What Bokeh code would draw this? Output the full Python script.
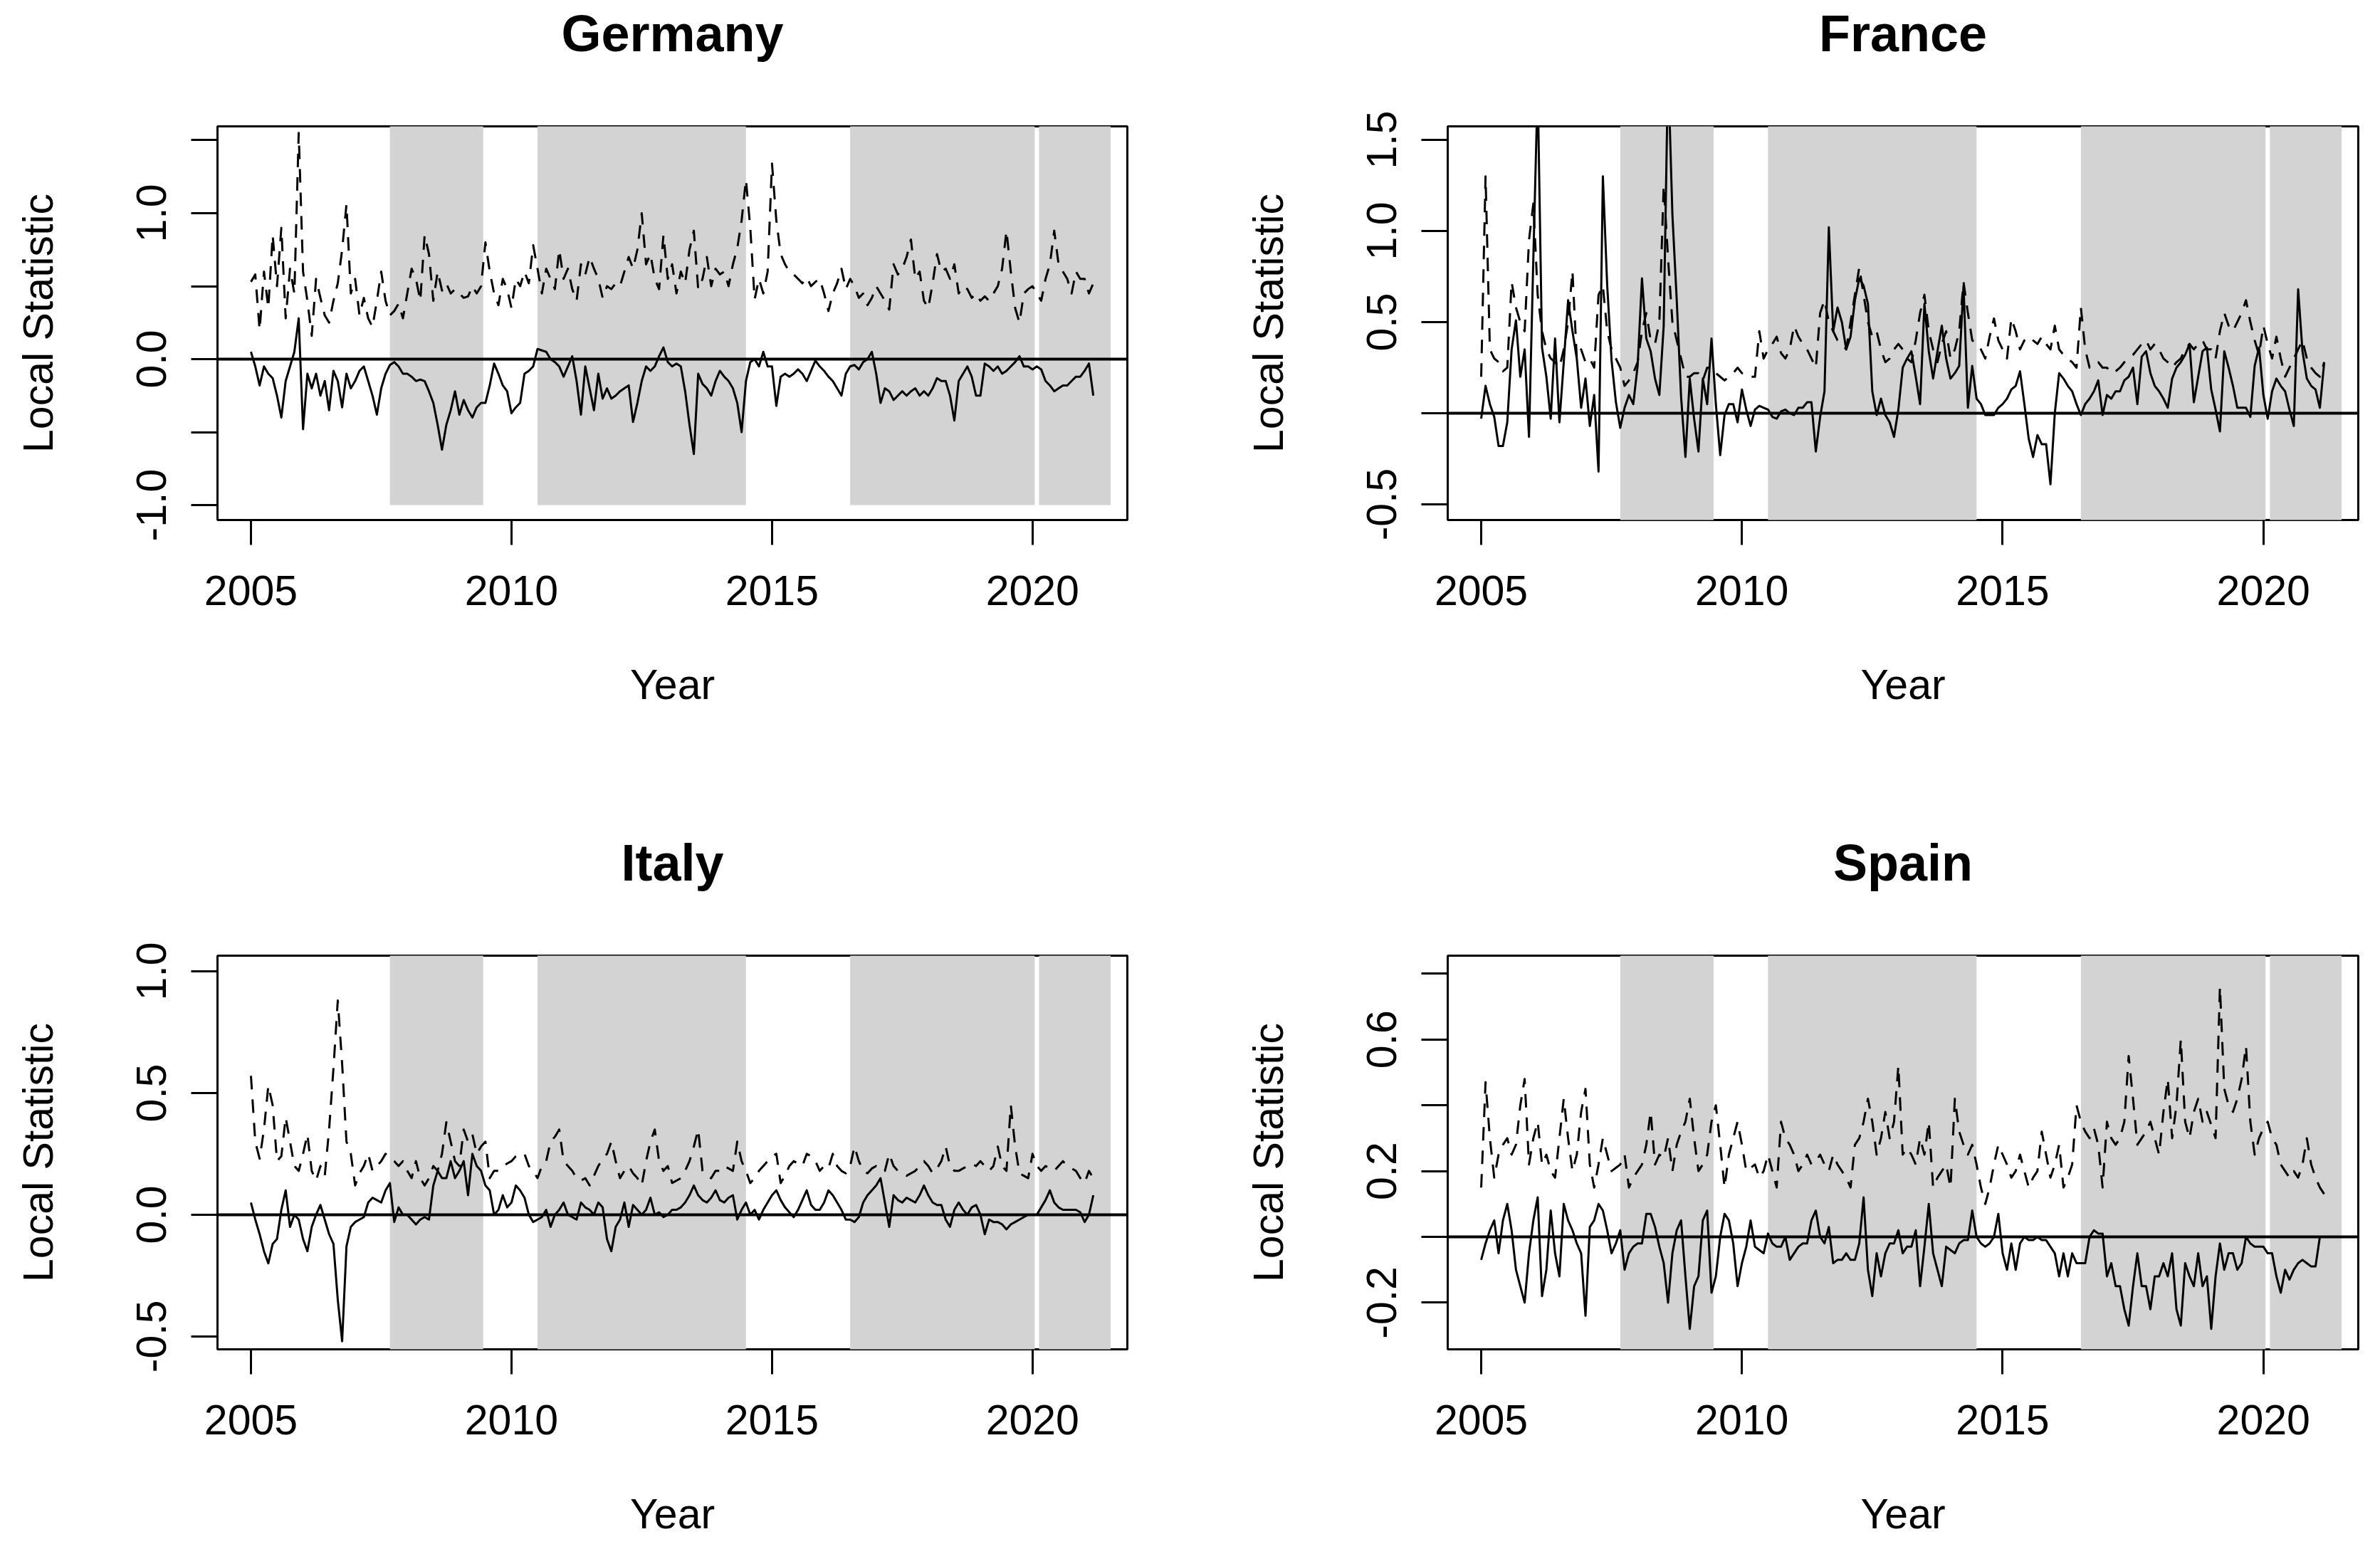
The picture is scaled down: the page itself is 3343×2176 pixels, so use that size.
import numpy as np
from bokeh.plotting import figure
from bokeh.layouts import row, column
from bokeh.models import FixedTicker, Span, Range1d, LinearAxis
from bokeh.embed import file_html
from bokeh.resources import INLINE

START_YEAR = 2005.0
MONTHS = 12.0

# ---------------- data (monthly, Jan 2005 onward) ----------------
de_dash = [
    0.53, 0.58, 0.20, 0.60, 0.35, 0.85, 0.50, 0.90, 0.28, 0.62, 0.45, 1.55,
    0.60, 0.40, 0.16, 0.55, 0.42, 0.30, 0.25, 0.40, 0.52, 0.75, 1.06, 0.45,
    0.55, 0.30, 0.42, 0.28, 0.22, 0.40, 0.60, 0.40, 0.30, 0.33, 0.38, 0.28,
    0.45, 0.62, 0.55, 0.40, 0.85, 0.72, 0.40, 0.60, 0.47, 0.52, 0.45, 0.48,
    0.45, 0.42, 0.43, 0.50, 0.45, 0.50, 0.80, 0.60, 0.45, 0.37, 0.55, 0.48,
    0.35, 0.55, 0.50, 0.60, 0.52, 0.78, 0.62, 0.45, 0.62, 0.55, 0.48, 0.75,
    0.55, 0.62, 0.48, 0.40, 0.65, 0.58, 0.70, 0.62, 0.55, 0.42, 0.50, 0.48,
    0.52, 0.50, 0.60, 0.70, 0.62, 0.75, 1.00, 0.65, 0.72, 0.55, 0.48, 0.85,
    0.55, 0.65, 0.45, 0.60, 0.52, 0.75, 0.88, 0.48, 0.55, 0.70, 0.50, 0.62,
    0.58, 0.60, 0.50, 0.65, 0.76, 0.95, 1.23, 0.90, 0.41, 0.55, 0.45, 0.60,
    1.34, 0.95, 0.72, 0.65, 0.60, 0.58, 0.55, 0.52, 0.56, 0.50, 0.53, 0.55,
    0.45, 0.33, 0.45, 0.52, 0.62, 0.48, 0.55, 0.50, 0.42, 0.45, 0.37, 0.42,
    0.50, 0.45, 0.40, 0.34, 0.65, 0.58, 0.62, 0.70, 0.82, 0.55, 0.60, 0.40,
    0.35, 0.52, 0.72, 0.60, 0.62, 0.55, 0.65, 0.45, 0.50, 0.48, 0.42, 0.45,
    0.40, 0.43, 0.40, 0.45, 0.50, 0.62, 0.88, 0.60, 0.35, 0.25, 0.45, 0.48,
    0.50, 0.45, 0.40, 0.55, 0.65, 0.88, 0.65, 0.60, 0.55, 0.45, 0.60, 0.55,
    0.55, 0.45, 0.52,
]
de_solid = [
    0.05, -0.05, -0.18, -0.05, -0.10, -0.13, -0.25, -0.40, -0.15, -0.05, 0.05, 0.28,
    -0.48, -0.10, -0.20, -0.10, -0.25, -0.15, -0.35, -0.08, -0.15, -0.33, -0.10, -0.20,
    -0.15, -0.08, -0.05, -0.15, -0.25, -0.38, -0.20, -0.10, -0.04, -0.02, -0.05, -0.10,
    -0.10, -0.12, -0.15, -0.14, -0.15, -0.22, -0.30, -0.45, -0.62, -0.45, -0.35, -0.22,
    -0.38, -0.28, -0.35, -0.40, -0.33, -0.30, -0.30, -0.18, -0.03, -0.10, -0.18, -0.22,
    -0.37, -0.33, -0.30, -0.10, -0.08, -0.05, 0.07, 0.06, 0.05, 0.00, -0.02, -0.05,
    -0.12, -0.05, 0.02, -0.15, -0.38, -0.05, -0.20, -0.35, -0.10, -0.27, -0.20, -0.27,
    -0.25, -0.22, -0.20, -0.18, -0.43, -0.30, -0.15, -0.05, -0.08, -0.05, 0.02, 0.08,
    -0.02, -0.05, -0.03, -0.05, -0.22, -0.45, -0.65, -0.10, -0.17, -0.20, -0.25, -0.15,
    -0.08, -0.12, -0.15, -0.20, -0.30, -0.50, -0.15, -0.02, 0.00, -0.05, 0.05, -0.05,
    -0.05, -0.32, -0.12, -0.10, -0.12, -0.10, -0.07, -0.10, -0.15, -0.08, -0.01, -0.05,
    -0.08, -0.12, -0.15, -0.20, -0.25, -0.10, -0.05, -0.04, -0.07, -0.02, 0.00, 0.05,
    -0.10, -0.30, -0.20, -0.22, -0.28, -0.25, -0.22, -0.25, -0.22, -0.20, -0.25, -0.22,
    -0.25, -0.20, -0.13, -0.15, -0.15, -0.25, -0.42, -0.15, -0.10, -0.05, -0.12, -0.25,
    -0.25, -0.03, -0.05, -0.08, -0.05, -0.10, -0.08, -0.05, -0.02, 0.02, -0.05, -0.05,
    -0.07, -0.05, -0.07, -0.15, -0.18, -0.22, -0.20, -0.18, -0.18, -0.15, -0.12, -0.12,
    -0.08, -0.03, -0.25,
]
fr_dash = [
    0.20, 1.30, 0.35, 0.30, 0.28, 0.23, 0.25, 0.72, 0.58, 0.50, 0.45, 0.95,
    1.15, 0.65, 0.45, 0.35, 0.30, 0.28, 0.25, 0.35, 0.50, 0.78, 0.30, 0.35,
    0.28, 0.30, 0.25, 0.65, 0.70, 0.45, 0.35, 0.30, 0.25, 0.15, 0.18, 0.22,
    0.28, 0.45, 0.55, 0.40, 0.38, 0.50, 1.25, 0.85, 0.50, 0.40, 0.30, 0.20,
    0.20, 0.22, 0.22, 0.18, 0.25, 0.25, 0.22, 0.20, 0.18, 0.20, 0.22, 0.25,
    0.22, 0.22, 0.20, 0.20, 0.45, 0.30, 0.35, 0.38, 0.42, 0.33, 0.30, 0.35,
    0.48, 0.42, 0.38, 0.35, 0.30, 0.25, 0.55, 0.62, 0.50, 0.45, 0.40, 0.38,
    0.35, 0.50, 0.65, 0.80, 0.65, 0.50, 0.42, 0.45, 0.35, 0.28, 0.30, 0.35,
    0.38, 0.35, 0.30, 0.28, 0.40, 0.55, 0.65, 0.45, 0.35, 0.28, 0.38, 0.45,
    0.30, 0.35, 0.45, 0.72, 0.55, 0.40, 0.38, 0.35, 0.30, 0.42, 0.52, 0.40,
    0.35, 0.30, 0.52, 0.45, 0.35, 0.40, 0.42, 0.40, 0.38, 0.42, 0.38, 0.35,
    0.48, 0.35, 0.32, 0.30, 0.28, 0.25, 0.58, 0.35, 0.25, 0.27, 0.28, 0.25,
    0.25, 0.22, 0.23, 0.25, 0.28, 0.30, 0.32, 0.35, 0.38, 0.40, 0.35, 0.38,
    0.35, 0.30, 0.28, 0.25, 0.28, 0.30, 0.35, 0.38, 0.35, 0.38, 0.40, 0.35,
    0.35, 0.30, 0.45, 0.55, 0.48, 0.45, 0.50, 0.55, 0.62, 0.50, 0.40, 0.32,
    0.48, 0.38, 0.30, 0.42, 0.30, 0.20, 0.25, 0.30, 0.35, 0.40, 0.30, 0.25,
    0.22, 0.20, 0.28,
]
fr_solid = [
    -0.03, 0.15, 0.05, -0.02, -0.18, -0.18, -0.05, 0.35, 0.51, 0.20, 0.35, -0.13,
    0.85, 1.80, 0.36, 0.20, -0.03, 0.41, -0.05, 0.28, 0.62, 0.45, 0.30, 0.03,
    0.19, -0.07, 0.10, -0.32, 1.30, 0.70, 0.29, 0.06, -0.08, 0.03, 0.10, 0.05,
    0.26, 0.74, 0.41, 0.34, 0.19, 0.10, 0.48, 1.90, 1.09, 0.62, 0.09, -0.24,
    0.19, -0.03, -0.21, 0.19, 0.05, 0.41, 0.05, -0.23, -0.01, 0.05, 0.05, -0.05,
    0.13, 0.02, -0.07, 0.02, 0.04, 0.03, 0.02, -0.02, -0.03, 0.01, 0.02, 0.00,
    -0.01, 0.03, 0.03, 0.06, 0.06, -0.21, -0.02, 0.12, 1.02, 0.45, 0.58, 0.50,
    0.35, 0.42, 0.62, 0.74, 0.70, 0.60, 0.12, -0.01, 0.08, -0.01, -0.05, -0.13,
    0.02, 0.25, 0.30, 0.34, 0.20, 0.05, 0.60, 0.34, 0.19, 0.34, 0.48, 0.30,
    0.19, 0.22, 0.26, 0.70, 0.03, 0.26, 0.08, 0.05, -0.01, -0.01, -0.01, 0.03,
    0.05, 0.08, 0.13, 0.15, 0.23, 0.05, -0.14, -0.24, -0.12, -0.17, -0.17, -0.39,
    0.00, 0.22, 0.19, 0.15, 0.12, 0.05, -0.01, 0.05, 0.08, 0.12, 0.18, -0.01,
    0.10, 0.08, 0.12, 0.12, 0.18, 0.20, 0.25, 0.05, 0.31, 0.34, 0.22, 0.15,
    0.12, 0.08, 0.03, 0.19, 0.25, 0.28, 0.32, 0.38, 0.06, 0.20, 0.34, 0.36,
    0.13, 0.02, -0.10, 0.34, 0.25, 0.15, 0.03, 0.03, 0.03, -0.02, 0.26, 0.36,
    0.10, -0.03, 0.12, 0.19, 0.15, 0.12, 0.02, -0.07, 0.68, 0.34, 0.19, 0.15,
    0.13, 0.03, 0.28,
]
it_dash = [
    0.57, 0.30, 0.23, 0.35, 0.53, 0.45, 0.22, 0.24, 0.40, 0.30, 0.20, 0.18,
    0.25, 0.33, 0.18, 0.14, 0.20, 0.16, 0.35, 0.60, 0.88, 0.62, 0.30, 0.25,
    0.12, 0.17, 0.20, 0.25, 0.18, 0.20, 0.22, 0.25, 0.23, 0.22, 0.20, 0.22,
    0.18, 0.15, 0.22, 0.15, 0.12, 0.15, 0.20, 0.18, 0.25, 0.38, 0.30, 0.22,
    0.20, 0.35, 0.30, 0.33, 0.25, 0.28, 0.30, 0.15, 0.18, 0.18, 0.20, 0.21,
    0.22, 0.24, 0.25, 0.25, 0.20, 0.18, 0.15, 0.20, 0.22, 0.30, 0.32, 0.35,
    0.22, 0.20, 0.18, 0.15, 0.14, 0.15, 0.12, 0.16, 0.20, 0.23, 0.25, 0.30,
    0.22, 0.15, 0.18, 0.20, 0.17, 0.15, 0.12, 0.22, 0.30, 0.35, 0.22, 0.18,
    0.20, 0.13, 0.14, 0.15, 0.18, 0.22, 0.28, 0.35, 0.18, 0.16, 0.15, 0.18,
    0.18, 0.20, 0.19, 0.18, 0.30, 0.22, 0.18, 0.13, 0.15, 0.18, 0.20, 0.22,
    0.24, 0.25, 0.13, 0.16, 0.20, 0.22, 0.21, 0.20, 0.25, 0.24, 0.22, 0.18,
    0.20, 0.19, 0.25, 0.20, 0.18, 0.17, 0.20, 0.28, 0.22, 0.18, 0.17, 0.19,
    0.20, 0.18, 0.18, 0.25, 0.20, 0.18, 0.17, 0.16, 0.17, 0.18, 0.20, 0.22,
    0.20, 0.17, 0.19, 0.22, 0.28, 0.20, 0.18, 0.18, 0.19, 0.20, 0.21, 0.20,
    0.22, 0.20, 0.18, 0.20, 0.28, 0.20, 0.18, 0.45, 0.28, 0.17, 0.16, 0.15,
    0.25, 0.20, 0.18, 0.20, 0.19, 0.18, 0.20, 0.22, 0.20, 0.19, 0.18, 0.15,
    0.13, 0.18, 0.15,
]
it_solid = [
    0.05, -0.02, -0.08, -0.15, -0.20, -0.12, -0.10, 0.02, 0.10, -0.05, 0.00, -0.02,
    -0.10, -0.15, -0.05, 0.00, 0.04, -0.02, -0.08, -0.12, -0.35, -0.52, -0.13, -0.05,
    -0.03, -0.02, -0.01, 0.05, 0.07, 0.06, 0.05, 0.10, 0.13, -0.03, 0.03, 0.00,
    0.00, -0.02, -0.04, -0.02, -0.01, -0.02, 0.12, 0.18, 0.15, 0.15, 0.22, 0.15,
    0.18, 0.22, 0.08, 0.25, 0.20, 0.18, 0.12, 0.10, 0.00, 0.02, 0.08, 0.03,
    0.05, 0.12, 0.10, 0.07, 0.00, -0.03, -0.02, -0.01, 0.02, -0.05, 0.00, 0.02,
    0.05, 0.00, -0.01, -0.02, 0.05, 0.03, 0.02, 0.00, 0.05, 0.03, -0.10, -0.15,
    -0.05, -0.02, 0.05, -0.05, 0.04, 0.02, 0.00, 0.02, 0.07, 0.00, 0.01, -0.01,
    0.00, 0.02, 0.02, 0.03, 0.05, 0.08, 0.12, 0.08, 0.06, 0.05, 0.07, 0.10,
    0.06, 0.05, 0.07, 0.08, -0.02, 0.02, 0.05, 0.00, 0.02, -0.02, 0.02, 0.05,
    0.08, 0.10, 0.06, 0.03, 0.01, -0.01, 0.02, 0.06, 0.10, 0.04, 0.02, 0.02,
    0.05, 0.10, 0.08, 0.05, 0.02, -0.02, -0.02, -0.03, -0.01, 0.05, 0.08, 0.10,
    0.12, 0.15, 0.05, -0.05, 0.08, 0.06, 0.05, 0.07, 0.06, 0.05, 0.08, 0.12,
    0.08, 0.05, 0.04, 0.04, -0.02, -0.05, 0.02, 0.05, 0.02, 0.00, 0.03, 0.04,
    0.00, -0.08, -0.02, -0.03, -0.03, -0.04, -0.06, -0.04, -0.03, -0.02, -0.01, 0.00,
    0.00, 0.00, 0.03, 0.06, 0.10, 0.05, 0.03, 0.02, 0.02, 0.02, 0.02, 0.01,
    -0.03, 0.00, 0.08,
]
es_dash = [
    0.15, 0.47, 0.30, 0.18, 0.25, 0.28, 0.30, 0.25, 0.28, 0.40, 0.48, 0.22,
    0.30, 0.35, 0.22, 0.25, 0.20, 0.18, 0.30, 0.42, 0.30, 0.20, 0.25, 0.38,
    0.45, 0.22, 0.15, 0.22, 0.30, 0.25, 0.20, 0.21, 0.22, 0.25, 0.15, 0.18,
    0.20, 0.22, 0.28, 0.38, 0.22, 0.25, 0.24, 0.30, 0.20, 0.28, 0.32, 0.35,
    0.42, 0.30, 0.20, 0.22, 0.25, 0.35, 0.40, 0.28, 0.15, 0.25, 0.30, 0.35,
    0.28, 0.20, 0.21, 0.22, 0.18, 0.20, 0.25, 0.20, 0.15, 0.35, 0.30, 0.28,
    0.25, 0.20, 0.22, 0.25, 0.22, 0.23, 0.25, 0.22, 0.20, 0.25, 0.22, 0.20,
    0.18, 0.15, 0.28, 0.30, 0.35, 0.42, 0.35, 0.25, 0.30, 0.38, 0.30, 0.35,
    0.52, 0.25, 0.27, 0.25, 0.22, 0.30, 0.25, 0.35, 0.15, 0.18, 0.20, 0.22,
    0.15, 0.42, 0.32, 0.28, 0.25, 0.28, 0.22, 0.15, 0.10, 0.15, 0.22, 0.28,
    0.25, 0.22, 0.18, 0.20, 0.25, 0.20, 0.15, 0.18, 0.20, 0.32, 0.25, 0.18,
    0.22, 0.28, 0.15, 0.18, 0.22, 0.40, 0.35, 0.32, 0.30, 0.33, 0.28, 0.15,
    0.35, 0.30, 0.28, 0.30, 0.35, 0.55, 0.42, 0.28, 0.30, 0.32, 0.35, 0.30,
    0.25, 0.38, 0.48, 0.30, 0.40, 0.60, 0.35, 0.30, 0.38, 0.42, 0.35, 0.38,
    0.34, 0.30, 0.76, 0.45, 0.40, 0.38, 0.42, 0.48, 0.58, 0.35, 0.25, 0.30,
    0.33, 0.35, 0.30, 0.28, 0.22, 0.20, 0.18, 0.20, 0.18, 0.22, 0.30, 0.22,
    0.18, 0.15, 0.13,
]
es_solid = [
    -0.07, -0.02, 0.02, 0.05, -0.05, 0.05, 0.10, 0.02, -0.10, -0.15, -0.20, -0.05,
    0.05, 0.12, -0.18, -0.10, 0.08, -0.05, -0.12, 0.10, 0.05, 0.02, -0.02, -0.05,
    -0.24, 0.03, 0.05, 0.10, 0.08, 0.02, -0.05, -0.02, 0.02, -0.10, -0.05, -0.03,
    -0.02, -0.02, 0.07, 0.07, 0.03, -0.03, -0.08, -0.20, -0.05, 0.02, 0.05, -0.12,
    -0.28, -0.15, -0.12, 0.05, 0.08, -0.17, -0.12, 0.00, 0.07, 0.05, -0.02, -0.15,
    -0.08, -0.03, 0.05, -0.03, -0.04, -0.05, 0.01, -0.02, -0.03, -0.03, 0.00, -0.07,
    -0.05, -0.03, -0.02, -0.02, 0.05, 0.08, 0.00, -0.02, 0.03, -0.08, -0.07, -0.07,
    -0.05, -0.07, -0.07, -0.02, 0.12, -0.10, -0.18, -0.05, -0.12, -0.05, -0.02, -0.02,
    0.02, -0.05, -0.03, -0.03, 0.02, -0.15, -0.03, 0.10, -0.05, -0.10, -0.15, -0.03,
    -0.04, -0.05, -0.02, -0.01, -0.01, 0.08, 0.00, -0.02, -0.03, -0.02, 0.00, 0.07,
    -0.05, -0.10, -0.02, -0.10, -0.02, 0.00, -0.01, -0.01, 0.00, -0.01, -0.01, -0.03,
    -0.05, -0.12, -0.05, -0.12, -0.05, -0.08, -0.08, -0.08, 0.00, 0.02, 0.01, 0.01,
    -0.12, -0.08, -0.15, -0.15, -0.22, -0.27, -0.15, -0.05, -0.15, -0.15, -0.22, -0.12,
    -0.12, -0.08, -0.12, -0.05, -0.22, -0.27, -0.08, -0.12, -0.15, -0.05, -0.15, -0.12,
    -0.28, -0.12, -0.02, -0.10, -0.05, -0.05, -0.10, -0.08, 0.00, -0.02, -0.03, -0.03,
    -0.03, -0.05, -0.05, -0.12, -0.17, -0.10, -0.13, -0.10, -0.08, -0.07, -0.08, -0.09,
    -0.09, 0.00,
]

# shaded periods (years)
shade_start = [2007.667, 2010.5, 2016.5, 2020.125]
shade_end = [2009.458, 2014.5, 2020.042, 2021.5]
shade_bottom = -1.0
shade_top = 10.0

x_ticks = [2005, 2010, 2015, 2020]

y_limits = {
    "Germany": (-1.102, 1.595),
    "France": (-0.586, 1.574),
    "Italy": (-0.553, 1.064),
    "Spain": (-0.342, 0.855),
}
y_ticks = {
    "Germany": [-1.0, -0.5, 0.0, 0.5, 1.0, 1.5],
    "France": [-0.5, 0.0, 0.5, 1.0, 1.5],
    "Italy": [-0.5, 0.0, 0.5, 1.0],
    "Spain": [-0.2, 0.0, 0.2, 0.4, 0.6, 0.8],
}
y_tick_text = {
    "Germany": ["-1.0", "", "0.0", "", "1.0", ""],
    "France": ["-0.5", "", "0.5", "1.0", "1.5"],
    "Italy": ["-0.5", "0.0", "0.5", "1.0"],
    "Spain": ["-0.2", "", "0.2", "", "0.6", ""],
}
series = {
    "Germany": (de_dash, de_solid),
    "France": (fr_dash, fr_solid),
    "Italy": (it_dash, it_solid),
    "Spain": (es_dash, es_solid),
}

X_LO, X_HI = 2004.358, 2021.82
FONT = "Liberation Sans"
GRAY = "#D3D3D3"
TXT = "59px"


def months_to_years(vals):
    return [START_YEAR + i / MONTHS for i in range(len(vals))]


def make_panel(name, width, height, bl, br, bt, bb, xlab_standoff):
    ylo, yhi = y_limits[name]
    p = figure(width=width, height=height,
               x_range=Range1d(X_LO, X_HI), y_range=Range1d(ylo, yhi),
               output_backend="svg", toolbar_location=None,
               min_border_left=bl, min_border_right=br,
               min_border_top=bt, min_border_bottom=bb)
    p.grid.visible = False
    p.background_fill_color = "white"
    p.border_fill_color = "white"
    p.outline_line_color = "black"
    p.outline_line_width = 3

    p.quad(left=shade_start, right=shade_end,
           bottom=[shade_bottom] * len(shade_start), top=[shade_top] * len(shade_start),
           fill_color=GRAY, line_color=None)

    dash, solid = series[name]
    p.line(months_to_years(dash), dash, line_color="black", line_width=3,
           line_dash="19 14", line_join="round")
    p.line(months_to_years(solid), solid, line_color="black", line_width=3,
           line_join="round")
    p.add_layout(Span(location=0, dimension="width", line_color="black", line_width=4))

    xa = p.below[0]
    xa.ticker = FixedTicker(ticks=x_ticks)
    xa.minor_tick_line_color = None
    xa.major_tick_out = 35
    xa.major_tick_in = 0
    xa.major_tick_line_width = 3
    xa.axis_line_color = None
    xa.major_label_text_font = FONT
    xa.major_label_text_font_size = TXT
    xa.major_label_text_color = "black"
    xa.major_label_standoff = 43
    xa.axis_label = "Year"
    xa.axis_label_text_font = FONT
    xa.axis_label_text_font_size = TXT
    xa.axis_label_text_font_style = "normal"
    xa.axis_label_text_color = "black"
    xa.axis_label_standoff = xlab_standoff

    ya = p.left[0]
    ya.ticker = FixedTicker(ticks=y_ticks[name])
    ya.major_label_overrides = {t: s for t, s in zip(y_ticks[name], y_tick_text[name])}
    ya.minor_tick_line_color = None
    ya.major_tick_out = 37
    ya.major_tick_in = 0
    ya.major_tick_line_width = 3
    ya.axis_line_color = None
    ya.major_label_orientation = "vertical"
    ya.major_label_text_font = FONT
    ya.major_label_text_font_size = TXT
    ya.major_label_text_color = "black"
    ya.major_label_standoff = 35
    ya.axis_label = "Local Statistic"
    ya.axis_label_text_font = FONT
    ya.axis_label_text_font_size = TXT
    ya.axis_label_text_font_style = "normal"
    ya.axis_label_text_color = "black"
    ya.axis_label_standoff = 103

    # panel title: label of a tick-less axis above the frame
    tax = LinearAxis(ticker=FixedTicker(ticks=[]), axis_label=name)
    tax.axis_line_color = None
    tax.major_tick_line_color = None
    tax.minor_tick_line_color = None
    tax.major_tick_out = 0
    tax.major_tick_in = 0
    tax.major_label_standoff = 0
    tax.major_label_text_font_size = "1px"
    tax.axis_label_text_font = FONT
    tax.axis_label_text_font_size = "72px"
    tax.axis_label_text_font_style = "bold"
    tax.axis_label_text_color = "black"
    tax.axis_label_standoff = 91
    p.add_layout(tax, "above")
    return p


# borders tuned so that the plot frames sit where the reference's boxes are
p_de = make_panel("Germany", 1728, 1165, 305, 145, 177, 435, 76)
p_fr = make_panel("France", 1590, 1165, 305, 6, 177, 435, 76)
p_it = make_panel("Italy", 1728, 1011, 305, 145, 177, 281, 76)
p_es = make_panel("Spain", 1590, 1011, 305, 6, 177, 281, 76)

layout = column(row(p_de, p_fr), row(p_it, p_es))
open("out.html", "w").write(file_html(layout, INLINE))
